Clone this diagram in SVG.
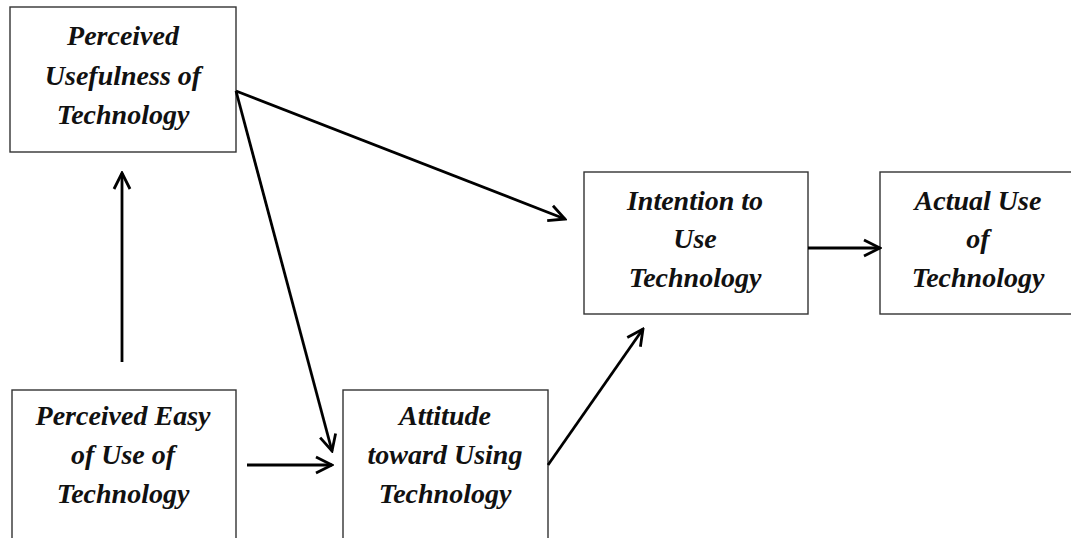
<svg xmlns="http://www.w3.org/2000/svg" width="1071" height="538" viewBox="0 0 1071 538">
<style>
.box{fill:#fff;stroke:#333;stroke-width:1.4}
.t{font-family:"Liberation Serif","Times New Roman",serif;font-weight:bold;font-style:italic;font-size:28px;fill:#111;text-anchor:middle}
.c{fill:none;stroke:#000;stroke-width:2.8}
</style>
<defs>
<marker id="ah" viewBox="0 0 20 20" refX="18" refY="10" markerWidth="20" markerHeight="20" markerUnits="userSpaceOnUse" orient="auto">
<path d="M2,2 L18,10 L2,18" fill="none" stroke="#000" stroke-width="2.8"/>
</marker>
</defs>
<rect width="1071" height="538" fill="#fff"/>
<g id="node-usefulness">
<rect class="box" x="10" y="7" width="226" height="145"/>
<text class="t" x="123" y="45">Perceived</text>
<text class="t" x="123" y="85">Usefulness of</text>
<text class="t" x="123" y="124">Technology</text>
</g>
<g id="node-ease">
<rect class="box" x="12" y="390" width="224" height="160"/>
<text class="t" x="123" y="425">Perceived Easy</text>
<text class="t" x="123" y="464">of Use of</text>
<text class="t" x="123" y="503">Technology</text>
</g>
<g id="node-attitude">
<rect class="box" x="343" y="390" width="205" height="160"/>
<text class="t" x="445" y="425">Attitude</text>
<text class="t" x="445" y="464">toward Using</text>
<text class="t" x="445" y="503">Technology</text>
</g>
<g id="node-intention">
<rect class="box" x="584" y="172" width="224" height="142"/>
<text class="t" x="695" y="210">Intention to</text>
<text class="t" x="695" y="248">Use</text>
<text class="t" x="695" y="287">Technology</text>
</g>
<g id="node-actual">
<rect class="box" x="880" y="172" width="220" height="142"/>
<text class="t" x="978" y="210">Actual Use</text>
<text class="t" x="978" y="248">of</text>
<text class="t" x="978" y="287">Technology</text>
</g>
<g id="connectors">
<line class="c" x1="122" y1="362" x2="122" y2="173" marker-end="url(#ah)"/>
<line class="c" x1="236" y1="91" x2="565" y2="219" marker-end="url(#ah)"/>
<line class="c" x1="236" y1="91" x2="332" y2="451" marker-end="url(#ah)"/>
<line class="c" x1="247" y1="465" x2="332" y2="465" marker-end="url(#ah)"/>
<line class="c" x1="548" y1="465" x2="643" y2="329" marker-end="url(#ah)"/>
<line class="c" x1="808" y1="248" x2="880" y2="248" marker-end="url(#ah)"/>
</g>
</svg>
